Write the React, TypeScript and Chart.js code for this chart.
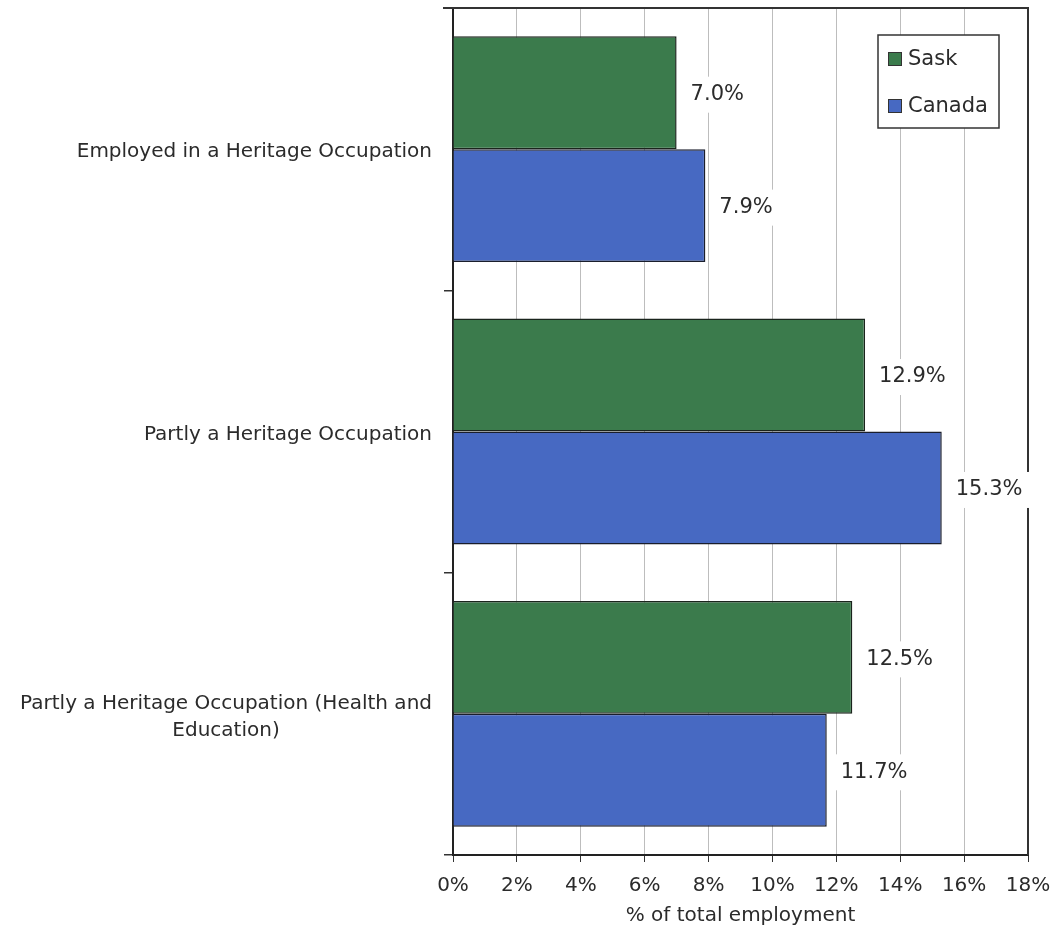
import React, { useEffect, useRef } from "react";
import { Chart, registerables } from "chart.js";

Chart.register(...registerables);

const categories: string[][] = [
  ["Employed in a Heritage Occupation"],
  ["Partly a Heritage Occupation"],
  ["Partly a Heritage Occupation (Health and", "Education)"],
];
const seriesNames = ["Sask", "Canada"];
const saskValues = [7.0, 12.9, 12.5];
const canadaValues = [7.9, 15.3, 11.7];
const xMin = 0;
const xMax = 18;
const xStep = 2;
const xTitle = "% of total employment";

const GREEN = "#3b7b4c";
const BLUE = "#4769c2";
const TEXT = "#2b2b2b";
const FONT = "'DejaVu Sans', Verdana, sans-serif";

export default function App() {
  const ref = useRef<HTMLCanvasElement | null>(null);

  useEffect(() => {
    if (!ref.current) return;

    const framePlugin = {
      id: "frame",
      beforeDatasetsDraw(chart: any) {
        const { ctx, chartArea } = chart;
        ctx.save();
        ctx.strokeStyle = "#333";
        ctx.lineWidth = 2;
        ctx.beginPath();
        ctx.moveTo(chartArea.left - 10, chartArea.top);
        ctx.lineTo(chartArea.right, chartArea.top);
        ctx.lineTo(chartArea.right, chartArea.bottom);
        ctx.stroke();
        ctx.restore();
      },
    };

    const labelPlugin = {
      id: "valueLabels",
      afterDatasetsDraw(chart: any) {
        const { ctx } = chart;
        const xs = chart.scales.x;
        ctx.save();
        ctx.font = `21px ${FONT}`;
        ctx.textBaseline = "middle";
        ctx.textAlign = "left";
        chart.data.datasets.forEach((ds: any, di: number) => {
          const meta = chart.getDatasetMeta(di);
          meta.data.forEach((bar: any, i: number) => {
            const v = ds.data[i] as number;
            const txt = v.toFixed(1) + "%";
            const x = xs.getPixelForValue(v) + 14;
            const y = bar.y + 2;
            const w = ctx.measureText(txt).width;
            ctx.fillStyle = "#ffffff";
            ctx.fillRect(x - 7, y - 18, w + 14, 36);
            ctx.fillStyle = TEXT;
            ctx.fillText(txt, x, y);
          });
        });
        ctx.restore();
      },
    };

    const extrasPlugin = {
      id: "extras",
      afterDraw(chart: any) {
        const { ctx, chartArea } = chart;
        const ys = chart.scales.y;
        ctx.save();
        // category labels
        ctx.font = `20px ${FONT}`;
        ctx.fillStyle = TEXT;
        ctx.textBaseline = "middle";
        ctx.textAlign = "center";
        const rightEdge = chartArea.left - 21;
        const lh = 27;
        categories.forEach((lines, i) => {
          const cy = ys.getPixelForValue(i) + 3;
          const bw = Math.max(...lines.map((l) => ctx.measureText(l).width));
          const cx = rightEdge - bw / 2;
          const y0 = cy - ((lines.length - 1) * lh) / 2;
          lines.forEach((l, j) => ctx.fillText(l, cx, y0 + j * lh));
        });
        // legend
        const lx = 878, ly = 35, lw = 121, lhh = 93;
        ctx.fillStyle = "#ffffff";
        ctx.fillRect(lx, ly, lw, lhh);
        ctx.strokeStyle = "#333";
        ctx.lineWidth = 1.5;
        ctx.strokeRect(lx, ly, lw, lhh);
        ctx.font = `21px ${FONT}`;
        ctx.textAlign = "left";
        chart.data.datasets.forEach((ds: any, di: number) => {
          const cy = ly + 24 + di * 47;
          ctx.fillStyle = ds.backgroundColor;
          ctx.fillRect(lx + 10, cy - 7, 14, 14);
          ctx.strokeStyle = "#333";
          ctx.lineWidth = 1;
          ctx.strokeRect(lx + 10.5, cy - 6.5, 13, 13);
          ctx.fillStyle = TEXT;
          ctx.fillText(ds.label, lx + 30, cy + 1);
        });
        ctx.restore();
      },
    };

    const chart = new Chart(ref.current, {
      type: "bar",
      data: {
        labels: categories.map((c) => c.join(" ")),
        datasets: [
          {
            label: seriesNames[0],
            data: saskValues,
            backgroundColor: GREEN,
            borderColor: "#1a241c",
            borderWidth: 1.5,
            categoryPercentage: 0.8,
            barPercentage: 1,
          },
          {
            label: seriesNames[1],
            data: canadaValues,
            backgroundColor: BLUE,
            borderColor: "#1a1e2c",
            borderWidth: 1.5,
            categoryPercentage: 0.8,
            barPercentage: 1,
          },
        ],
      },
      options: {
        indexAxis: "y",
        animation: false,
        responsive: true,
        maintainAspectRatio: false,
        layout: { padding: { top: 8, right: 27, left: 0, bottom: 0 } },
        plugins: {
          legend: { display: false },
          tooltip: { enabled: false },
        },
        scales: {
          x: {
            type: "linear",
            min: xMin,
            max: xMax,
            ticks: {
              stepSize: xStep,
              callback: (v: any) => `${v}%`,
              font: { family: FONT, size: 20 },
              color: TEXT,
              padding: 12,
            },
            grid: {
              color: "#bdbdbd",
              lineWidth: 1,
              tickColor: "#333",
              tickLength: 7,
            },
            border: { color: "#222", width: 2 },
            title: {
              display: true,
              text: xTitle,
              font: { family: FONT, size: 20 },
              color: TEXT,
              padding: { top: 0, bottom: 6 },
            },
            afterFit: (scale: any) => {
              scale.height = 79;
              scale.paddingLeft = 0;
              scale.paddingRight = 0;
            },
          },
          y: {
            type: "category",
            offset: true,
            ticks: { display: false },
            grid: {
              offset: true,
              drawOnChartArea: false,
              tickColor: "#333",
              tickLength: 9,
              lineWidth: 1.5,
            },
            border: { color: "#222", width: 2 },
            afterFit: (scale: any) => {
              scale.width = 453;
            },
          },
        },
      },
      plugins: [framePlugin, labelPlugin, extrasPlugin],
    } as any);

    return () => chart.destroy();
  }, []);

  return (
    <div style={{ position: "absolute", left: 0, top: 0, width: 1055, height: 934, background: "#fff" }}>
      <canvas ref={ref} />
    </div>
  );
}
